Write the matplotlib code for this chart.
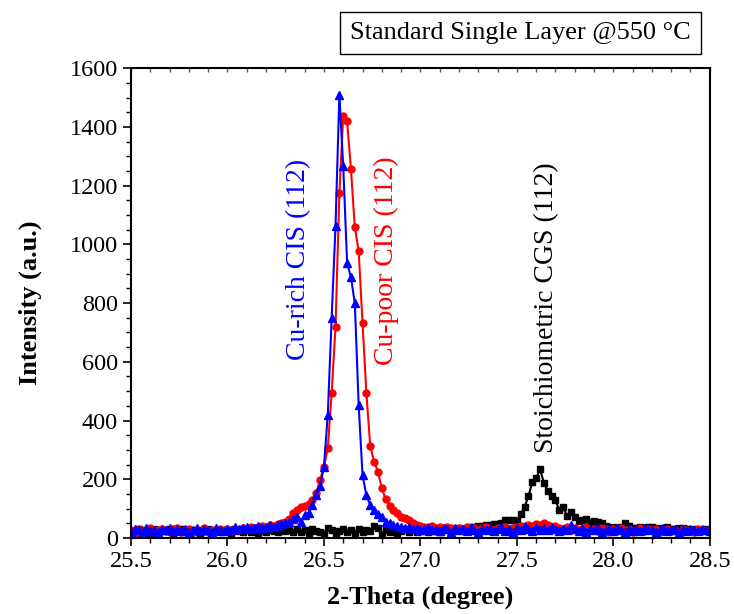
import matplotlib
matplotlib.use("Agg")
import matplotlib.pyplot as plt
from matplotlib.ticker import MultipleLocator, FormatStrFormatter
import numpy as np

plt.rcParams['font.family'] = ['Liberation Serif', 'DejaVu Serif']

# XRD scans, 2-theta from 25.50 in steps of 0.02 degree
theta_start = 25.5
theta_step = 0.02

cgs_stoich = [25, 18, 30, 22, 27, 15, 32, 20, 26, 23, 29, 17, 24, 31, 19, 27, 22, 28, 16, 25,
              30, 21, 26, 19, 28, 23, 17, 29, 24, 20, 27, 22, 31, 18, 25, 21, 28, 24, 19, 30,
              23, 26, 20, 29, 22, 27, 18, 31, 24, 21,
              15, 35, 28, 8, 25, 30, 20, 26, 18, 31, 22, 27, 24, 40, 33, 12, 26, 21, 29, 17,
              24, 30, 19, 27, 22, 25,
              28, 21, 30, 24, 19, 27, 32, 25, 29, 35, 30, 33, 38, 36, 42, 40, 45, 43,
              47, 47, 52, 61, 61, 62, 59, 82, 105, 143, 190, 203, 235, 188, 160, 143, 129, 95,
              105, 76, 90, 70, 59, 60, 64, 56, 58, 55, 52, 40, 33,
              38, 33, 36, 50, 42, 33, 35, 38, 31, 36, 38, 33, 30, 35, 38, 32, 29, 35, 33, 30,
              27, 31, 26, 28, 30, 25]

cis_cu_poor = [28, 18, 30, 25, 22, 33, 20, 27, 31, 24, 19, 29, 35, 22, 26, 30, 21, 28, 24, 33,
               20, 27, 25, 30, 23,
               29, 24, 32, 27, 35, 30, 38, 33, 36, 41, 37, 44, 40, 48, 52,
               55, 65, 85, 95, 107, 109, 115, 129, 152, 197, 243, 306, 493, 719,
               1175, 1438, 1420, 1256, 1059, 978, 732, 494, 313, 260, 226, 169, 132, 109, 95, 84,
               73, 68, 60, 51, 45, 41,
               38, 35, 40, 33, 36, 31, 38, 34, 29, 35, 32, 37, 30, 34, 28, 33, 36, 30, 27, 34,
               31, 38, 29, 33,
               36, 42, 38, 45, 40, 48, 43, 51, 44, 38, 41,
               35, 30, 37, 28, 33, 26, 31, 36, 27, 32, 25, 34, 29, 22, 31, 27, 35, 24, 30, 20,
               28, 33, 23, 29, 26, 32, 21, 27, 30, 24, 28, 22, 31, 25, 27, 20, 29, 24, 26, 28]

cis_cu_rich = [22, 30, 26, 19, 33, 24, 28, 21, 31, 26, 35, 23, 29, 25, 32, 20, 27, 34, 24, 30,
               26, 22, 33, 28, 25,
               31, 27, 36, 29, 33, 38, 30, 35, 40, 34, 38, 43, 37, 45, 48,
               50, 55, 65, 73, 56, 78, 86, 112, 146, 177, 243, 420, 750, 1062,
               1510, 1266, 937, 888, 800, 453, 214, 146, 112, 95, 80, 73, 55, 50, 44,
               40, 36, 33, 38, 30, 35, 28, 32, 37, 27, 31, 25, 34, 29, 22, 33, 27, 30, 24, 35,
               28, 21, 31, 26, 33, 23, 29, 36, 25, 30, 22, 34, 27, 40, 31, 24, 38, 28, 33, 26,
               36, 30, 23, 32, 27, 45, 29, 24, 34, 20, 30, 26, 33, 22, 28, 31, 24, 35, 27, 21,
               32, 25, 29, 23, 34, 26, 30, 20, 28, 33, 24, 27, 31, 22, 29, 25, 32, 26, 23, 30,
               27, 25]


def theta(values):
    return theta_start + theta_step * np.arange(len(values))


fig = plt.figure(figsize=(7.34, 6.14), dpi=100)
ax = fig.add_axes([0.1785, 0.1238, 0.7885, 0.7652])

ax.plot(theta(cgs_stoich), cgs_stoich, color='black', marker='s', markersize=5, lw=1.5)
ax.plot(theta(cis_cu_poor), cis_cu_poor, color='red', marker='o', markersize=5, lw=1.5)
ax.plot(theta(cis_cu_rich), cis_cu_rich, color='blue', marker='^', markersize=5.5, lw=1.5)

ax.set_xlim(25.5, 28.5)
ax.set_ylim(0, 1600)
ax.xaxis.set_major_locator(MultipleLocator(0.5))
ax.xaxis.set_minor_locator(MultipleLocator(0.1))
ax.yaxis.set_major_locator(MultipleLocator(200))
ax.yaxis.set_minor_locator(MultipleLocator(50))
ax.xaxis.set_major_formatter(FormatStrFormatter('%.1f'))

ax.tick_params(axis='both', which='major', direction='out', length=6, width=1.2, labelsize=17.5)
ax.tick_params(axis='both', which='minor', direction='out', length=3.5, width=1.0)
ax.tick_params(axis='x', which='both', top=False)
ax.tick_params(axis='y', which='both', right=False)

for s in ax.spines.values():
    s.set_linewidth(1.5)

# top ticks point inward
sec = ax.secondary_xaxis('top')
sec.xaxis.set_major_locator(MultipleLocator(0.5))
sec.xaxis.set_minor_locator(MultipleLocator(0.1))
sec.tick_params(which='both', direction='in', length=3, width=1.0, color='#555555', labeltop=False)
sec.spines['top'].set_visible(False)

ax.set_xlabel('2-Theta (degree)', fontsize=19, fontweight='bold', labelpad=10)
ax.set_ylabel('Intensity (a.u.)', fontsize=19, fontweight='bold', labelpad=20)

ax.text(26.37, 950, 'Cu-rich CIS (112)', rotation=90, color='blue', fontsize=20,
        ha='center', va='center')
ax.text(26.825, 945, 'Cu-poor CIS (112)', rotation=90, color='red', fontsize=20,
        ha='center', va='center')
ax.text(27.655, 785, 'Stoichiometric CGS (112)', rotation=90, color='black', fontsize=20,
        ha='center', va='center')

fig.text(0.709, 0.947, 'Standard Single Layer @550 \u00b0C', fontsize=19, ha='center', va='center',
         bbox=dict(boxstyle='square,pad=0.38', facecolor='white', edgecolor='black', linewidth=1.0))

fig.savefig('out.png', dpi=100)
